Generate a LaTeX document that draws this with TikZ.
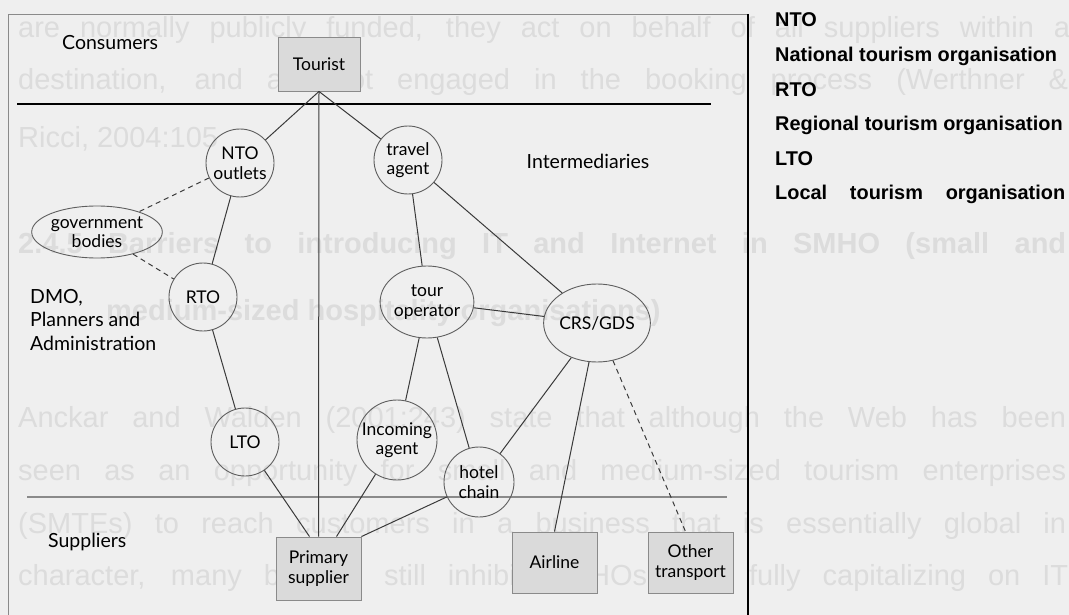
\documentclass[tikz,border=0pt]{standalone}
\usepackage{fontspec}
\setmainfont{Lato}
\newfontfamily\arial{Liberation Sans}
\usetikzlibrary{shapes.geometric}

\definecolor{paper}{HTML}{EFEFEF}
\definecolor{ghost}{HTML}{DCDCDC}
\definecolor{boxfill}{HTML}{DADADA}
\definecolor{ink}{HTML}{3A3A3A}
\definecolor{rim}{HTML}{5E5E5E}
\definecolor{frame}{HTML}{8A8A8A}

\begin{document}
\begin{tikzpicture}[x=1pt,y=-1pt,
  lbl/.style={font=\fontsize{19.5}{23.5}\selectfont, text=black, inner sep=0pt},
  orb/.style={circle, draw=rim, line width=0.9pt, minimum size=#1, inner sep=0pt,
              font=\fontsize{17.5}{19.5}\selectfont, align=center},
  oval/.style={ellipse, draw=rim, line width=0.9pt, inner sep=0pt,
               font=\fontsize{17.5}{19.5}\selectfont, align=center},
  actor/.style={rectangle, draw=frame, fill=boxfill, line width=0.9pt, inner sep=0pt,
                font=\fontsize{17.5}{20}\selectfont, align=center},
  link/.style={draw=ink, line width=1pt},
  weaklink/.style={draw=ink, line width=1pt, dash pattern=on 5pt off 4pt},
  ghosttext/.style={anchor=base west, inner sep=0pt, text=ghost,
                    font=\arial\fontsize{29}{29}\selectfont},
  legend/.style={anchor=base west, inner sep=0pt, text=black,
                 font=\arial\bfseries\fontsize{19.9}{19.9}\selectfont}
]
% page
\fill[paper] (0,0) rectangle (1069,615);
\useasboundingbox (0,0) rectangle (1069,615);

% faint text of the page underneath
\node[ghosttext] at (18,38)  {\makebox[1052pt][s]{are normally publicly funded, they act on behalf of all suppliers within a}};
\node[ghosttext] at (18,90)  {\makebox[1050pt][s]{destination, and are not engaged in the booking process (Werthner \&}};
\node[ghosttext] at (18,148) {Ricci, 2004:105};
\node[ghosttext, font=\arial\bfseries\fontsize{29}{29}\selectfont] at (18,253)
  {\makebox[1048pt][s]{2.4.5 Barriers to introducing IT and Internet in SMHO (small and}};
\node[ghosttext, font=\arial\bfseries\fontsize{29}{29}\selectfont] at (106,320)
  {medium-sized hospitality organisations)};
\node[ghosttext] at (18,427) {\makebox[1048pt][s]{Anckar and Walden (2001:243) state that although the Web has been}};
\node[ghosttext] at (18,480) {\makebox[1048pt][s]{seen as an opportunity for small and medium-sized tourism enterprises}};
\node[ghosttext] at (18,533) {\makebox[1048pt][s]{(SMTEs) to reach customers in a business that is essentially global in}};
\node[ghosttext] at (18,585) {\makebox[1050pt][s]{character, many barriers still inhibit SMHOs from fully capitalizing on IT}};

% frame of the figure
\draw[frame, line width=1pt] (8,615) -- (8,15) -- (748,15);
\draw[black, line width=2pt] (748,14) -- (748,615);

% band separators
\draw[black, line width=1.3pt] (17,104) -- (711,104);
\draw[frame, line width=1.3pt] (27,497) -- (727,497);

% band labels
\node[lbl, anchor=base west] at (62,50) {Consumers};
\node[lbl, anchor=base] at (588,169) {Intermediaries};
\node[lbl, anchor=base west, align=left] at (30,350)
  {DMO,\\Planners and\\Administration};
\node[lbl, anchor=base west] at (48,547) {Suppliers};

% actors
\node[actor, minimum width=82pt, minimum height=54pt] (tourist) at (319,64) {Tourist};
\node[actor, minimum width=85pt, minimum height=63pt] (primary) at (318.5,568.5) {Primary\\supplier};
\node[actor, minimum width=85pt, minimum height=61pt] (airline) at (554.5,562.5) {Airline};
\node[actor, minimum width=85pt, minimum height=61pt] (other)   at (690.5,562.5) {Other\\transport};

% organisations
\node[orb=68pt] (nto)    at (240,163) {NTO\\outlets};
\node[orb=68pt] (travel) at (408,160) {travel\\agent};
\node[oval, minimum width=110pt, minimum height=52pt] (gov) at (97,232) {government\\bodies};
\node[orb=68pt] (rto)    at (203,297) {RTO};
\node[orb=68pt] (lto)    at (245,442) {LTO};
\node[oval, minimum width=79pt, minimum height=72pt] (tour) at (427,302) {tour\\operator};
\node[oval, minimum width=88pt, minimum height=78pt] (crs)  at (597,323) {CRS/GDS};
\node[orb=80pt] (incoming) at (397,440) {Incoming\\agent};
\node[orb=70pt] (hotel)  at (479,482) {hotel\\chain};

% links
\draw[link] (tourist.south) -- (primary.north);
\draw[link] (tourist.south) -- (nto);
\draw[link] (tourist.south) -- (travel);
\draw[weaklink] (nto) -- (gov);
\draw[weaklink] (gov) -- (rto);
\draw[link] (nto) -- (rto);
\draw[link] (rto) -- (lto);
\draw[link] (lto) -- ([xshift=-9pt]primary.north);
\draw[link] (travel) -- (tour);
\draw[link] (travel) -- (crs);
\draw[link] (tour) -- (crs);
\draw[link] (tour) -- (incoming);
\draw[link] (tour) -- (hotel);
\draw[link] (crs) -- (hotel);
\draw[link] (crs) -- (airline.north);
\draw[weaklink] (crs) -- ([xshift=-5pt]other.north);
\draw[link] (incoming) -- ([xshift=18pt]primary.north);
\draw[link] (hotel) -- (primary.north east);

% abbreviations
\node[legend] at (775,27)    {NTO};
\node[legend] at (775,61.6)  {National tourism organisation};
\node[legend] at (775,96.2)  {RTO};
\node[legend] at (775,130.8) {Regional tourism organisation};
\node[legend] at (775,165.4) {LTO};
\node[legend] at (775,200)   {\makebox[290pt][s]{Local tourism organisation}};
\end{tikzpicture}
\end{document}
